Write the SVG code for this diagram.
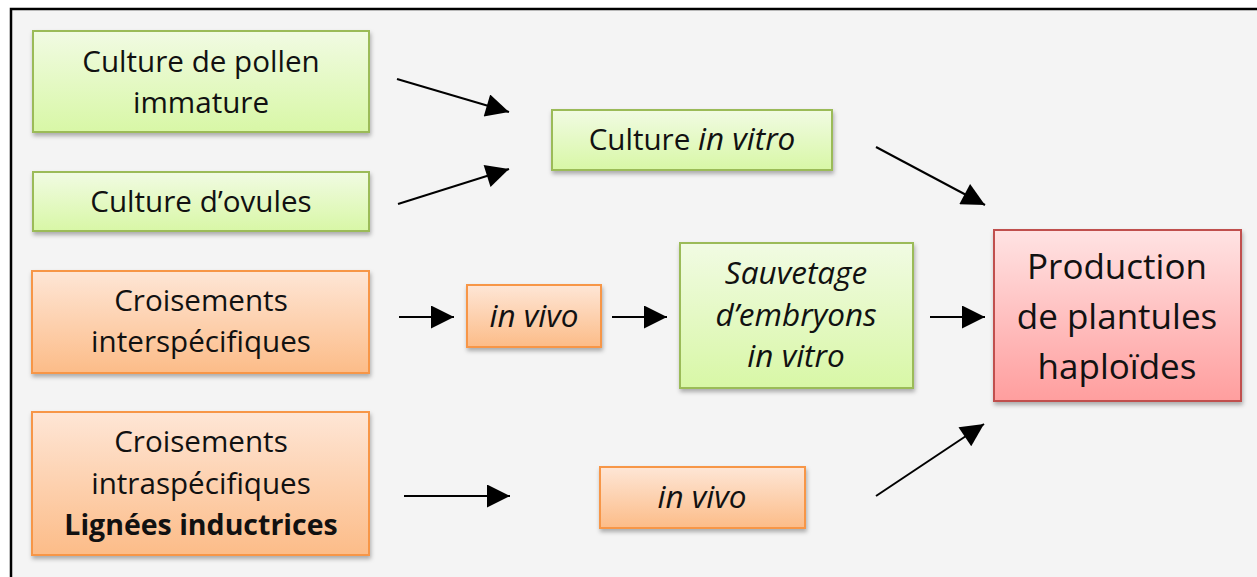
<svg xmlns="http://www.w3.org/2000/svg" width="1257" height="577" viewBox="0 0 1257 577">
<style>
text{font-family:"Open Sans","Noto Sans",sans-serif;font-size:29.6px;fill:#111;text-anchor:middle}
.it{font-style:italic;font-size:31.5px}
.b{font-weight:bold;font-size:28.5px}
.big{font-size:35px}
.g{fill:url(#gg);stroke:#9bbb59;stroke-width:2}
.o{fill:url(#go);stroke:#f79646;stroke-width:2}
.r{fill:url(#gr);stroke:#c0504d;stroke-width:2}
.c line{stroke:#000;stroke-width:2;marker-end:url(#ah)}
</style>
<defs>
<linearGradient id="gg" x1="0" y1="0" x2="0" y2="1"><stop offset="0" stop-color="#f1fbe3"/><stop offset="1" stop-color="#d8f7a6"/></linearGradient>
<linearGradient id="go" x1="0" y1="0" x2="0" y2="1"><stop offset="0" stop-color="#fee6d6"/><stop offset="1" stop-color="#fcbc88"/></linearGradient>
<linearGradient id="gr" x1="0" y1="0" x2="0" y2="1"><stop offset="0" stop-color="#ffe3e3"/><stop offset="1" stop-color="#ff9e9e"/></linearGradient>
<filter id="sh" x="-10%" y="-10%" width="120%" height="130%"><feDropShadow dx="1" dy="3" stdDeviation="2" flood-color="#000" flood-opacity="0.3"/></filter>
<marker id="ah" viewBox="0 0 10 10" refX="10" refY="5" markerUnits="userSpaceOnUse" markerWidth="25" markerHeight="23" orient="auto"><path d="M0,0L10,5L0,10z" fill="#000"/></marker>
</defs>
<rect x="0" y="0" width="1257" height="577" fill="#fff"/>
<rect x="11" y="9" width="1246" height="568" fill="#f4f4f4"/>
<path d="M11,577V9H1257" fill="none" stroke="#000" stroke-width="2.5"/>
<g class="c" id="connectors">
<line x1="397" y1="79" x2="509" y2="112"/>
<line x1="398" y1="204" x2="509" y2="169"/>
<line x1="876" y1="147" x2="985" y2="205"/>
<line x1="399" y1="317" x2="454" y2="317"/>
<line x1="612" y1="317" x2="667" y2="317"/>
<line x1="930" y1="317" x2="985" y2="317"/>
<line x1="404" y1="496" x2="510" y2="496"/>
<line x1="876" y1="496" x2="984" y2="424"/>
</g>
<g id="n1"><rect class="g" x="33" y="31" width="336" height="101" filter="url(#sh)"/><text x="201" y="72">Culture de pollen</text><text x="201" y="113">immature</text></g>
<g id="n2"><rect class="g" x="33" y="172" width="336" height="59" filter="url(#sh)"/><text x="201" y="212">Culture d’ovules</text></g>
<g id="n3"><rect class="o" x="32" y="271" width="337" height="102" filter="url(#sh)"/><text x="201" y="311">Croisements</text><text x="201" y="352">interspécifiques</text></g>
<g id="n4"><rect class="o" x="32" y="412" width="337" height="143" filter="url(#sh)"/><text x="201" y="452">Croisements</text><text x="201" y="494">intraspécifiques</text><text class="b" x="201" y="535">Lignées inductrices</text></g>
<g id="n5"><rect class="g" x="552" y="110" width="280" height="60" filter="url(#sh)"/><text x="692" y="150">Culture <tspan class="it">in vitro</tspan></text></g>
<g id="n6"><rect class="o" x="467" y="285" width="134" height="62" filter="url(#sh)"/><text class="it" x="534" y="327">in vivo</text></g>
<g id="n7"><rect class="g" x="680" y="243" width="233" height="145" filter="url(#sh)"/><text class="it" x="796" y="284">Sauvetage</text><text class="it" x="796" y="326">d’embryons</text><text class="it" x="796" y="367">in vitro</text></g>
<g id="n8"><rect class="o" x="600" y="467" width="205" height="61" filter="url(#sh)"/><text class="it" x="702" y="508">in vivo</text></g>
<g id="n9"><rect class="r" x="994" y="230" width="247" height="171" filter="url(#sh)"/><text class="big" x="1117" y="279">Production</text><text class="big" x="1117" y="329">de plantules</text><text class="big" x="1117" y="379">haploïdes</text></g>
</svg>
